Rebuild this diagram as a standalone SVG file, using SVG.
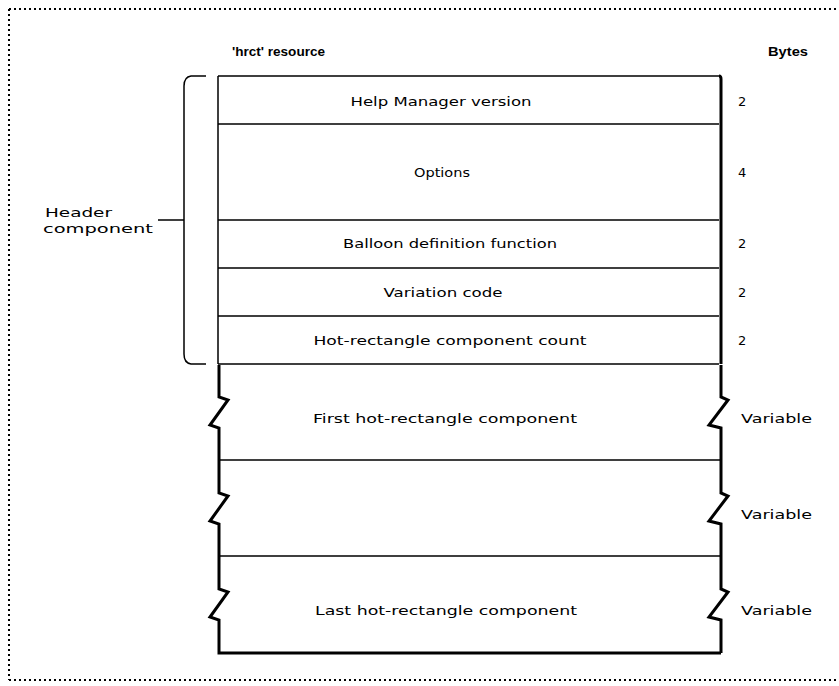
<svg xmlns="http://www.w3.org/2000/svg" width="839" height="686" viewBox="0 0 839 686">
  <style>
    .lbl { font-family: "DejaVu Sans", "Liberation Sans", sans-serif; font-size: 13px; fill: #000; }
    .mid { text-anchor: middle; }
    .hdr { font-family: "Liberation Sans", Arial, sans-serif; font-size: 13px; font-weight: bold; fill: #000; }
    .thin { fill: none; stroke: #000; stroke-width: 1.5; }
    .thick { fill: none; stroke: #000; stroke-width: 3; }
    .dots { fill: none; stroke: #000; stroke-width: 2; stroke-dasharray: 2 3; }
  </style>
  <rect width="839" height="686" fill="#fff"/>

  <!-- dotted frame -->
  <g id="frame">
    <path class="dots" d="M9,9 H839 M9,9 V680 M9,680 H839"/>
  </g>

  <!-- column headings -->
  <g id="headings">
    <text class="hdr" x="232" y="56" textLength="93" lengthAdjust="spacingAndGlyphs">'hrct' resource</text>
    <text class="hdr" x="768" y="56" textLength="40" lengthAdjust="spacingAndGlyphs">Bytes</text>
  </g>

  <!-- fixed-size header fields -->
  <g id="header-fields">
    <path class="thin" d="M218,76 H719 M218,76 V364 M218,124 H719 M218,220 H719 M218,268 H719 M218,316 H719 M218,364 H719"/>
    <path class="thick" d="M719,76 Q721,76 721,79 V364"/>
  </g>
  <g id="help-version">
    <text class="lbl mid" x="441" y="106" textLength="181" lengthAdjust="spacingAndGlyphs">Help Manager version</text>
    <text class="lbl" x="738" y="106">2</text>
  </g>
  <g id="options">
    <text class="lbl mid" x="442" y="177" textLength="56" lengthAdjust="spacingAndGlyphs">Options</text>
    <text class="lbl" x="738" y="177">4</text>
  </g>
  <g id="balloon-def">
    <text class="lbl mid" x="450" y="248" textLength="214" lengthAdjust="spacingAndGlyphs">Balloon definition function</text>
    <text class="lbl" x="738" y="248">2</text>
  </g>
  <g id="variation-code">
    <text class="lbl mid" x="443" y="297" textLength="119" lengthAdjust="spacingAndGlyphs">Variation code</text>
    <text class="lbl" x="738" y="297">2</text>
  </g>
  <g id="hot-rect-count">
    <text class="lbl mid" x="450" y="345" textLength="273" lengthAdjust="spacingAndGlyphs">Hot-rectangle component count</text>
    <text class="lbl" x="738" y="345">2</text>
  </g>

  <!-- variable-length hot-rectangle components with break marks -->
  <g id="variable-fields">
    <path class="thin" d="M219,460 H720 M219,556 H720"/>
    <path class="thick" d="M219,365 V397 L228,400 L210,425 L219,428 V461 V493 L228,496 L210,521 L219,524 V557 V589 L228,592 L210,617 L219,620 V653 H721"/>
    <path class="thick" d="M721,365 V397 L728,400 L709,425 L721,428 V461 V493 L728,496 L709,521 L721,524 V557 V589 L728,592 L709,617 L721,620 V653"/>
  </g>
  <g id="first-hot-rect">
    <text class="lbl mid" x="445" y="423" textLength="264" lengthAdjust="spacingAndGlyphs">First hot-rectangle component</text>
    <text class="lbl" x="741" y="423" textLength="71" lengthAdjust="spacingAndGlyphs">Variable</text>
  </g>
  <g id="middle-hot-rect">
    <text class="lbl" x="741" y="519" textLength="71" lengthAdjust="spacingAndGlyphs">Variable</text>
  </g>
  <g id="last-hot-rect">
    <text class="lbl mid" x="446" y="615" textLength="262" lengthAdjust="spacingAndGlyphs">Last hot-rectangle component</text>
    <text class="lbl" x="741" y="615" textLength="71" lengthAdjust="spacingAndGlyphs">Variable</text>
  </g>

  <!-- brace grouping the header fields -->
  <g id="header-brace">
    <path class="thin" d="M206,76 H191 Q184,77 184,86 V354 Q184,363 191,364 H206 M158,220 H184"/>
    <text class="lbl" x="45" y="217" textLength="67" lengthAdjust="spacingAndGlyphs">Header</text>
    <text class="lbl" x="43" y="233" textLength="110" lengthAdjust="spacingAndGlyphs">component</text>
  </g>
</svg>
